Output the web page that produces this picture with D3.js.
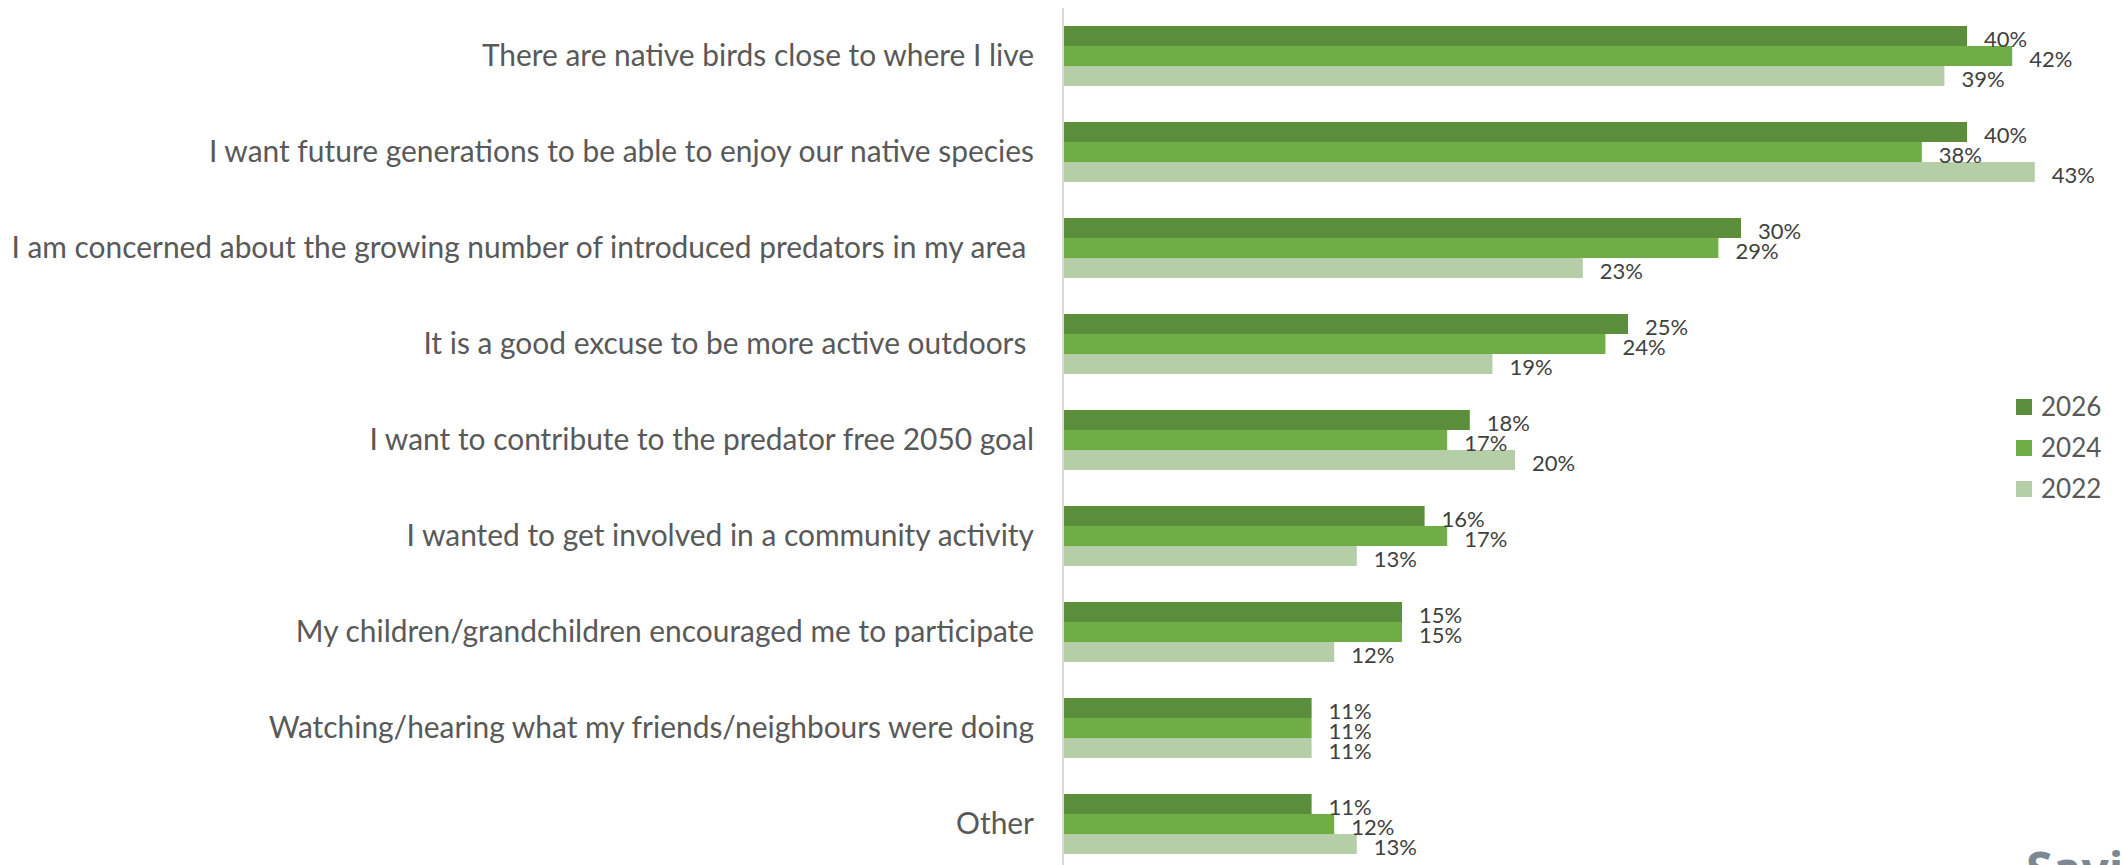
<!DOCTYPE html>
<html>
<head>
<meta charset="utf-8">
<script src="https://cdn.jsdelivr.net/npm/d3@7"></script>
<style>
  html, body { margin: 0; padding: 0; background: #ffffff; overflow: hidden; }
  svg { display: block; }
  text { white-space: pre; }
</style>
</head>
<body>
<svg id="chart" width="2123" height="865"></svg>
<script>
// Reasons for taking part, by survey year (share of respondents)
const categories = [
  "There are native birds close to where I live",
  "I want future generations to be able to enjoy our native species",
  "I am concerned about the growing number of introduced predators in my area ",
  "It is a good excuse to be more active outdoors ",
  "I want to contribute to the predator free 2050 goal",
  "I wanted to get involved in a community activity",
  "My children/grandchildren encouraged me to participate",
  "Watching/hearing what my friends/neighbours were doing",
  "Other"
];
const seriesNames = ["2026", "2024", "2022"];
const values2026 = [0.40, 0.40, 0.30, 0.25, 0.18, 0.16, 0.15, 0.11, 0.11];
const values2024 = [0.42, 0.38, 0.29, 0.24, 0.17, 0.17, 0.15, 0.11, 0.12];
const values2022 = [0.39, 0.43, 0.23, 0.19, 0.20, 0.13, 0.12, 0.11, 0.13];
const seriesColors = ["#5B8E3B", "#70AD47", "#B5CEA8"];

const seriesValues = [values2026, values2024, values2022];
const rows = categories.map((c, i) => ({
  category: c,
  bars: seriesNames.map((s, j) => ({ series: s, value: seriesValues[j][i], color: seriesColors[j] }))
}));

const svg = d3.select("#chart");
const fontFamily = "Lato, 'Noto Sans', sans-serif";

// Plot geometry
const plotLeft = 1063, plotTop = 8, plotBottom = 872;

const x = d3.scaleLinear().domain([0, 1]).range([plotLeft, plotLeft + 2260]);
const y = d3.scaleBand().domain(categories).range([plotTop, plotBottom])
  .paddingInner(0.375).paddingOuter(0.1875);
const ySeries = d3.scaleBand().domain(seriesNames).range([0, y.bandwidth()]);

// Bars
const groups = svg.append("g").selectAll("g")
  .data(rows).join("g")
  .attr("transform", d => `translate(0,${y(d.category)})`);

groups.selectAll("rect")
  .data(d => d.bars).join("rect")
  .attr("x", x(0))
  .attr("y", d => ySeries(d.series))
  .attr("width", d => x(d.value) - x(0))
  .attr("height", ySeries.bandwidth())
  .attr("fill", d => d.color);

// Value labels
const fmt = d3.format(".0%");
groups.selectAll("text")
  .data(d => d.bars).join("text")
  .attr("x", d => x(d.value) + 17)
  .attr("y", d => ySeries(d.series) + ySeries.bandwidth() / 2 + 2)
  .attr("dominant-baseline", "central")
  .attr("font-family", fontFamily)
  .attr("font-size", 22)
  .attr("fill", "#404040")
  .text(d => fmt(d.value));

// Category axis line
svg.append("line")
  .attr("x1", plotLeft).attr("x2", plotLeft)
  .attr("y1", plotTop).attr("y2", plotBottom)
  .attr("stroke", "#d9d9d9").attr("stroke-width", 2);

// Category labels, sized so the longest one fits the left margin
const labels = svg.append("g").selectAll("text")
  .data(categories).join("text")
  .attr("x", 1034)
  .attr("y", d => y(d) + y.bandwidth() / 2)
  .attr("dy", "0.34em")
  .attr("text-anchor", "end")
  .attr("font-family", fontFamily)
  .attr("font-size", 32)
  .attr("fill", "#595959")
  .text(d => d);

let widest = 0;
labels.each(function () { widest = Math.max(widest, this.getComputedTextLength()); });
const labelSize = 32 * Math.min(1, 1023 / widest);
labels.attr("font-size", labelSize);

// Legend
const legend = svg.append("g").attr("transform", "translate(2016,399)");
const legendItems = legend.selectAll("g")
  .data(seriesNames.map((s, i) => ({ name: s, color: seriesColors[i] })))
  .join("g")
  .attr("transform", (d, i) => `translate(0,${i * 41})`);
legendItems.append("rect")
  .attr("width", 16).attr("height", 16)
  .attr("fill", d => d.color);
legendItems.append("text")
  .attr("x", 25).attr("y", 8)
  .attr("dy", "0.36em")
  .attr("font-family", fontFamily)
  .attr("font-size", 26)
  .attr("fill", "#595959")
  .text(d => d.name);

// Logo wordmark at the lower right, running off the page edge
svg.append("text")
  .attr("x", 2026).attr("y", 887)
  .attr("font-family", "'Open Sans', sans-serif")
  .attr("font-weight", 700)
  .attr("font-size", 48)
  .attr("fill", "#7b8793")
  .text("Savi");
</script>
</body>
</html>
